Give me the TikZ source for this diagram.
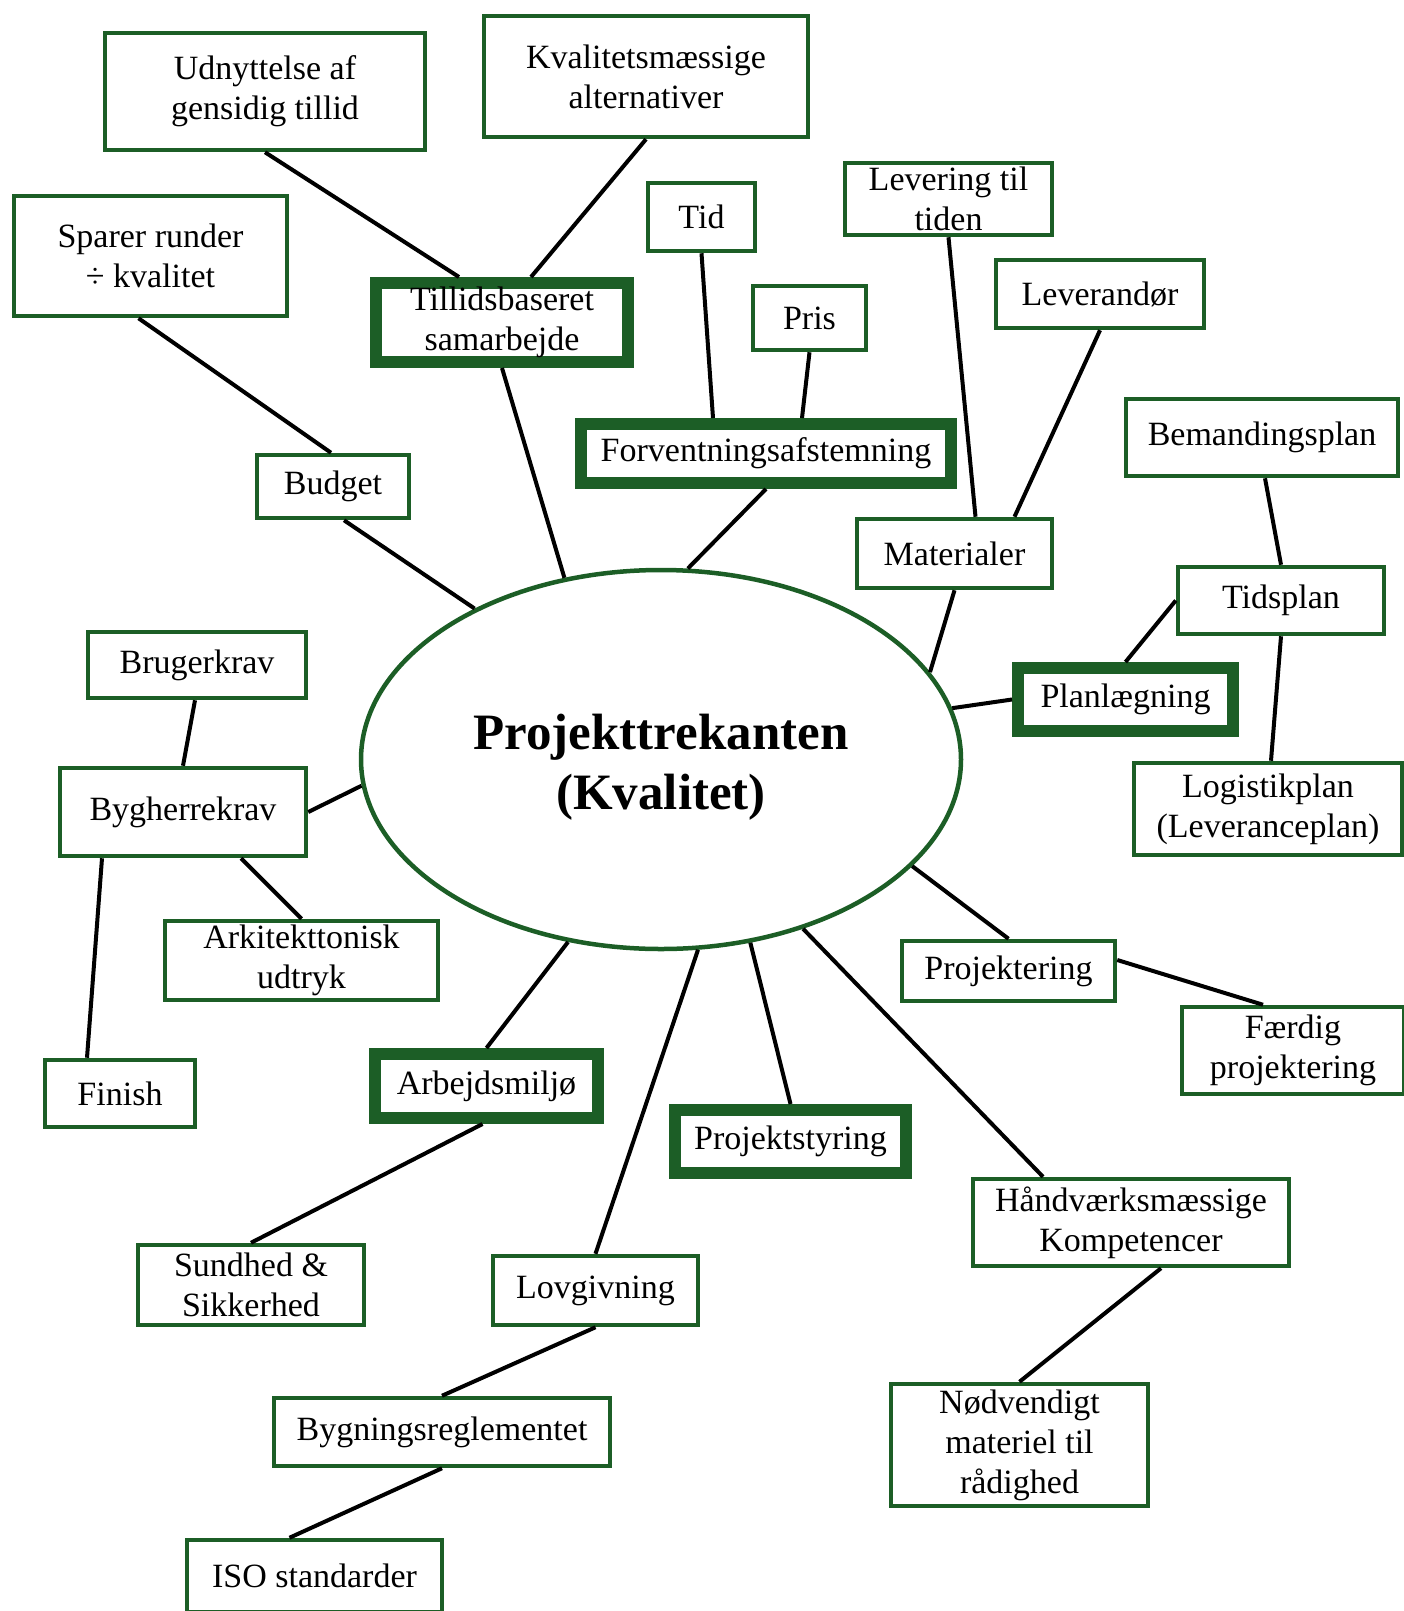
\documentclass[tikz,border=0pt]{standalone}
\usepackage{fontspec}
\setmainfont{Liberation Serif}
\usetikzlibrary{calc,positioning,shapes.geometric}
\definecolor{kantgroen}{RGB}{28,94,38}

\begin{document}
\begin{tikzpicture}[
		x=1pt, y=-1pt,
		every node/.style={font=\fontsize{34}{40}\selectfont, align=center, inner sep=0pt},
		% Stijlen
		emne/.style={rectangle, draw=kantgroen, line width=4.5pt, fill=white},
		hovedemne/.style={emne, line width=12pt},
		kerne/.style={ellipse, draw=kantgroen, line width=4.5pt, fill=white, font=\fontsize{51}{60}\selectfont\bfseries},
		forbindelse/.style={line width=4pt, black}
	]

	\useasboundingbox (0,0) rectangle (1403,1611);

	% --- 1. MIDTE ---
	\node[kerne, minimum width=600pt, minimum height=379pt] (kern) at (661,759.5) {\rule{0pt}{50pt}Projekttrekanten\\(Kvalitet)};

	% --- 2. BOVENKANT ---
	\node[emne, minimum width=320pt, minimum height=117pt] (udn) at (265,91.5) {Udnyttelse af\\gensidig tillid};
	\node[emne, minimum width=324pt, minimum height=121pt] (kval) at (646,76.5) {Kvalitetsmæssige\\alternativer};
	\node[emne, minimum width=273pt, minimum height=120pt] (spar) at (150.5,256) {Sparer runder\\÷ kvalitet};
	\node[hovedemne, minimum width=252pt, minimum height=79pt] (till) at (502,322.5) {Tillidsbaseret\\samarbejde};
	\node[emne, minimum width=152pt, minimum height=63pt] (budg) at (333,486.5) {Budget};
	\node[emne, minimum width=107pt, minimum height=68pt] (tid) at (701.5,217) {Tid};
	\node[emne, minimum width=113pt, minimum height=64pt] (pris) at (809.5,318) {Pris};
	\node[hovedemne, minimum width=370pt, minimum height=59pt] (forv) at (766,453.5) {Forventningsafstemning};
	\node[emne, minimum width=207pt, minimum height=72pt] (lev) at (948.5,199) {Levering til\\tiden};
	\node[emne, minimum width=208pt, minimum height=68pt] (levd) at (1100,294) {Leverandør};
	\node[emne, minimum width=195pt, minimum height=69pt] (mat) at (954.5,553.5) {Materialer};

	% --- 3. RECHTERKANT ---
	\node[emne, minimum width=272pt, minimum height=77pt] (beman) at (1262,437.5) {Bemandingsplan};
	\node[emne, minimum width=206pt, minimum height=67pt] (tids) at (1281,600.5) {Tidsplan};
	\node[hovedemne, minimum width=215pt, minimum height=63pt] (plan) at (1125.5,699.5) {Planlægning};
	\node[emne, minimum width=268pt, minimum height=92pt] (logi) at (1268,809) {Logistikplan\\(Leveranceplan)};
	\node[emne, minimum width=213pt, minimum height=60pt] (proj) at (1008.5,971) {Projektering};
	\node[emne, minimum width=222pt, minimum height=87pt] (faer) at (1293,1050.5) {Færdig\\projektering};
	\node[emne, minimum width=316pt, minimum height=87pt] (hand) at (1131,1222.5) {Håndværksmæssige\\Kompetencer};
	\node[emne, minimum width=257pt, minimum height=122pt] (nodv) at (1019.5,1445) {Nødvendigt\\materiel til\\rådighed};

	% --- 4. LINKERKANT ---
	\node[emne, minimum width=218pt, minimum height=66pt] (brug) at (197,665) {Brugerkrav};
	\node[emne, minimum width=246pt, minimum height=88pt] (bygh) at (183,812) {Bygherrekrav};
	\node[emne, minimum width=273pt, minimum height=79pt] (arki) at (301.5,960.5) {Arkitekttonisk\\udtryk};
	\node[emne, minimum width=150pt, minimum height=67pt] (fini) at (120,1093.5) {Finish};

	% --- 5. ONDERKANT ---
	\node[hovedemne, minimum width=223pt, minimum height=64pt] (arbe) at (486.5,1086) {Arbejdsmiljø};
	\node[hovedemne, minimum width=231pt, minimum height=63pt] (styr) at (790.5,1141.5) {Projektstyring};
	\node[emne, minimum width=226pt, minimum height=80pt] (sund) at (251,1285) {Sundhed \&\\Sikkerhed};
	\node[emne, minimum width=205pt, minimum height=69pt] (lovg) at (595.5,1290.5) {Lovgivning};
	\node[emne, minimum width=336pt, minimum height=68pt] (bygn) at (442,1432) {Bygningsreglementet};
	\node[emne, minimum width=255pt, minimum height=72pt] (iso) at (314.5,1576) {ISO standarder};

	% --- 6. VERBINDINGEN ---
	% boven
	\draw[forbindelse] (udn.south) -- ([xshift=-43pt]till.north);
	\draw[forbindelse] (kval.south) -- ([xshift=29pt]till.north);
	\draw[forbindelse] ([xshift=-12pt]spar.south) -- ([xshift=-2pt]budg.north);
	\draw[forbindelse] ([xshift=11pt]budg.south) -- (kern.141.5);
	\draw[forbindelse] (till.south) -- (kern.118);
	\draw[forbindelse] (forv.south) -- (kern.82);
	\draw[forbindelse] (tid.south) -- ([xshift=-53pt]forv.north);
	\draw[forbindelse] (pris.south) -- ([xshift=36pt]forv.north);
	\draw[forbindelse] (lev.south) -- ([xshift=21pt]mat.north);
	\draw[forbindelse] (levd.south) -- ([xshift=60pt]mat.north);
	\draw[forbindelse] (mat.south) -- (kern.18);

	% rechts
	\draw[forbindelse] (kern.10) -- (plan.west);
	\draw[forbindelse] (plan.north) -- (tids.west);
	\draw[forbindelse] ([xshift=3pt]beman.south) -- (tids.north);
	\draw[forbindelse] (tids.south) -- ([xshift=3pt]logi.north);
	\draw[forbindelse] (kern.337) -- (proj.north);
	\draw[forbindelse] ([yshift=11pt]proj.east) -- ([xshift=-30pt]faer.north);
	\draw[forbindelse] (kern.310) -- ([xshift=-88pt]hand.north);
	\draw[forbindelse] ([xshift=30pt]hand.south) -- (nodv.north);

	% links
	\draw[forbindelse] (bygh.east) -- (kern.185);
	\draw[forbindelse] ([xshift=-2pt]brug.south) -- (bygh.north);
	\draw[forbindelse] ([xshift=58pt]bygh.south) -- (arki.north);
	\draw[forbindelse] ([xshift=-81pt]bygh.south) -- ([xshift=-33pt]fini.north);

	% onder
	\draw[forbindelse] (kern.243) -- (arbe.north);
	\draw[forbindelse] ([xshift=-4pt]arbe.south) -- (sund.north);
	\draw[forbindelse] (kern.281.5) -- (lovg.north);
	\draw[forbindelse] (lovg.south) -- (bygn.north);
	\draw[forbindelse] (bygn.south) -- ([xshift=-25pt]iso.north);
	\draw[forbindelse] (kern.296.4) -- (styr.north);

\end{tikzpicture}
\end{document}
